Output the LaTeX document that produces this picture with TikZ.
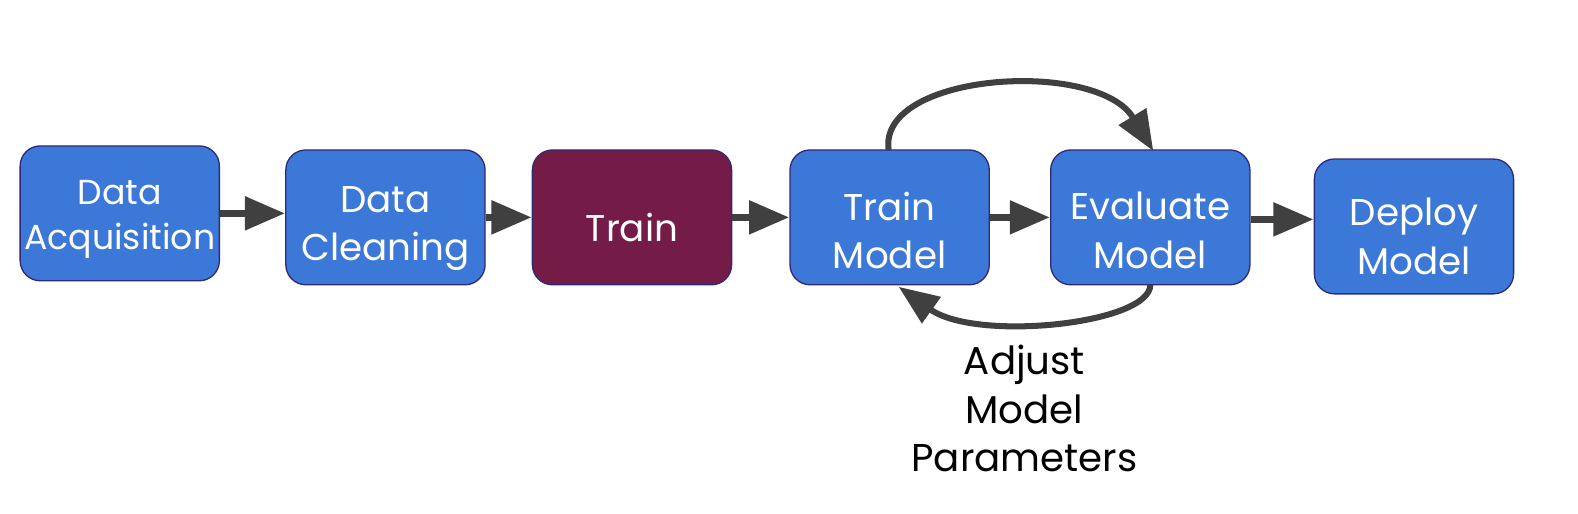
\documentclass[tikz,border=0pt]{standalone}
\usepackage{fontspec}
\setmainfont{Poppins}
\usetikzlibrary{arrows.meta}
\definecolor{boxblue}{HTML}{3C78D8}
\definecolor{boxmaroon}{HTML}{741B47}
\definecolor{boxedge}{HTML}{2F2A78}
\definecolor{arrowgray}{HTML}{404040}
\tikzset{
  stepbox/.style={draw=boxedge, line width=1.3pt, fill=boxblue, rounded corners=20pt,
    minimum width=198pt, minimum height=134pt, inner sep=0pt},
  boxtext/.style={text=white, align=center, inner sep=0pt, font=\fontsize{37}{48}\selectfont},
  flow/.style={draw=arrowgray, line width=7.5pt, -{Triangle[length=40pt,width=32pt]}},
  loop/.style={draw=arrowgray, line width=6pt, -{Triangle[length=40pt,width=31pt]}},
}
\begin{document}
\begin{tikzpicture}[x=1pt,y=-1pt]
\path[use as bounding box, fill=white] (0,0) rectangle (1568,510);
\node[stepbox, label={[boxtext, font=\fontsize{34.5}{44}\selectfont, yshift=-6pt]center:Data\\Acquisition}] (acq) at (119,212) {};
\node[stepbox, label={[boxtext, yshift=-11pt]center:Data\\Cleaning}] (clean) at (383,216) {};
\node[stepbox, fill=boxmaroon, label={[boxtext, yshift=-10pt]center:Train}] (train) at (628,216) {};
\node[stepbox, label={[boxtext, yshift=-13pt]center:Train\\Model}] (tmodel) at (884,216) {};
\node[stepbox, label={[boxtext, yshift=-13pt]center:Evaluate\\Model}] (eval) at (1143,216) {};
\node[stepbox, label={[boxtext, yshift=-10pt]center:Deploy\\Model}] (deploy) at (1405,225) {};
\node[align=center, font=\fontsize{38.5}{48}\selectfont, text=black] (adjust) at (1018,406) {Adjust\\Model\\Parameters};
\draw[flow] (acq.east |- 0,212) -- (clean.west |- 0,212);
\draw[flow] (clean.east |- 0,216) -- (train.west |- 0,216);
\draw[flow] (train.east |- 0,216) -- (tmodel.west |- 0,216);
\draw[flow] (tmodel.east |- 0,216) -- (eval.west |- 0,216);
\draw[flow] (eval.east |- 0,218) -- (deploy.west |- 0,218);
\coordinate (topstart) at (883,149);
\coordinate (topend) at (1146,150);
\coordinate (botstart) at (1143,283);
\coordinate (botend) at (893,285);
\draw[loop] (topstart) .. controls (872,72) and (1090,58) .. (topend);
\draw[loop] (botstart) .. controls (1143,322) and (970,340) .. (botend);
\end{tikzpicture}
\end{document}
